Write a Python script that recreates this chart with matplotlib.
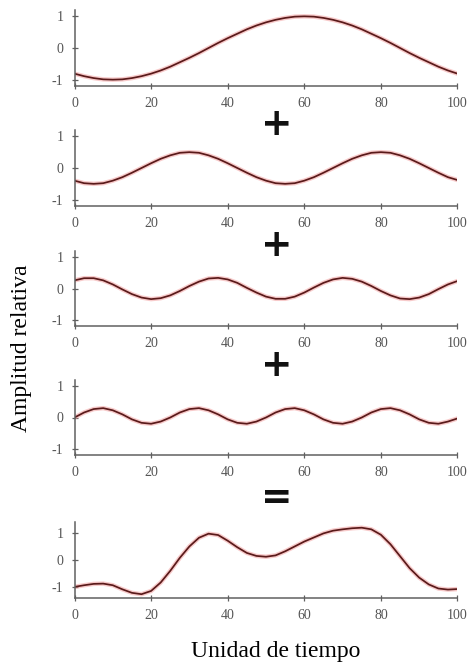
import matplotlib
matplotlib.use("Agg")
import matplotlib.pyplot as plt
import numpy as np

plt.rcParams['font.family'] = ['Liberation Serif', 'DejaVu Serif']
plt.rcParams['axes.unicode_minus'] = False

# time samples (every 2.5 units)
time = np.arange(0, 100.01, 2.5)

wave_1 = [-0.81, -0.89, -0.95, -0.99, -1.00, -0.99, -0.95, -0.89, -0.81, -0.71,
          -0.59, -0.45, -0.31, -0.16, 0.00, 0.16, 0.31, 0.45, 0.59, 0.71,
          0.81, 0.89, 0.95, 0.99, 1.00, 0.99, 0.95, 0.89, 0.81, 0.71,
          0.59, 0.45, 0.31, 0.16, 0.00, -0.16, -0.31, -0.45, -0.59, -0.71, -0.81]

wave_2 = [-0.40, -0.48, -0.50, -0.48, -0.40, -0.29, -0.15, 0.00, 0.15, 0.29,
          0.40, 0.48, 0.50, 0.48, 0.40, 0.29, 0.15, 0.00, -0.15, -0.29,
          -0.40, -0.48, -0.50, -0.48, -0.40, -0.29, -0.15, 0.00, 0.15, 0.29,
          0.40, 0.48, 0.50, 0.48, 0.40, 0.29, 0.15, 0.00, -0.15, -0.29, -0.38]

wave_3 = [0.26, 0.33, 0.33, 0.26, 0.13, -0.03, -0.18, -0.29, -0.34, -0.31,
          -0.22, -0.08, 0.08, 0.22, 0.32, 0.34, 0.29, 0.18, 0.02, -0.13,
          -0.26, -0.33, -0.33, -0.26, -0.13, 0.03, 0.18, 0.29, 0.34, 0.31,
          0.22, 0.08, -0.08, -0.22, -0.32, -0.34, -0.29, -0.18, -0.02, 0.13, 0.24]

wave_4 = [0.00, 0.16, 0.27, 0.30, 0.23, 0.10, -0.06, -0.17, -0.20, -0.13,
          0.00, 0.16, 0.27, 0.30, 0.23, 0.10, -0.06, -0.17, -0.20, -0.13,
          0.00, 0.16, 0.27, 0.30, 0.23, 0.10, -0.06, -0.17, -0.20, -0.13,
          0.00, 0.16, 0.27, 0.30, 0.23, 0.10, -0.06, -0.17, -0.20, -0.13, -0.03]

wave_sum = [-0.99, -0.93, -0.88, -0.87, -0.93, -1.08, -1.21, -1.26, -1.14, -0.83,
            -0.40, 0.08, 0.50, 0.82, 0.97, 0.92, 0.71, 0.47, 0.26, 0.15,
            0.12, 0.17, 0.32, 0.50, 0.68, 0.83, 0.98, 1.08, 1.13, 1.17,
            1.19, 1.13, 0.93, 0.58, 0.14, -0.30, -0.65, -0.90, -1.05, -1.09, -1.07]

series = [wave_1, wave_2, wave_3, wave_4, wave_sum]
x_ticks = [0, 20, 40, 60, 80, 100]
y_ticks = [-1, 0, 1]
operators = ['+', '+', '+', '=']

W, H = 472, 666
fig = plt.figure(figsize=(W / 100, H / 100), dpi=100)

# panel pixel boxes (top, bottom)
boxes = [(10, 86), (130, 206), (251, 326), (380, 455), (522, 598)]
ylims = [(-1.2, 1.2)] * 4 + [(-1.4, 1.4)]
left_px, right_px = 74.5, 457.5

axes = []
for (top, bot), data, yl in zip(boxes, series, ylims):
    ax = fig.add_axes([left_px / W, 1 - bot / H, (right_px - left_px) / W, (bot - top) / H])
    ax.plot(time, data, color='#f2a0a0', lw=3.2, alpha=0.55, solid_capstyle='round')
    ax.plot(time, data, color='#5a1a1a', lw=1.25, solid_capstyle='round')
    ax.set_xlim(0, 100)
    ax.set_ylim(*yl)
    ax.set_xticks(x_ticks)
    ax.set_yticks(y_ticks)
    for s in ['top', 'right']:
        ax.spines[s].set_visible(False)
    for s in ['left', 'bottom']:
        ax.spines[s].set_color('#606060')
        ax.spines[s].set_linewidth(1.1)
    ax.tick_params(axis='both', direction='inout', length=4, width=0.9, color='#606060',
                   labelsize=10, labelcolor='#555555')
    ax.tick_params(axis='x', pad=6)
    ax.tick_params(axis='y', pad=6)
    ax.patch.set_alpha(0)
    axes.append(ax)

# operators between panels
op_y = [125, 246, 366, 498]
for sym, yy in zip(operators, op_y):
    fig.text(277 / W, 1 - yy / H, sym, ha='center', va='center',
             fontsize=27, fontweight='bold', family='DejaVu Sans', color='#111111')

fig.text(22 / W, 1 - 348 / H, 'Amplitud relativa', rotation=90, ha='center', va='center',
         fontsize=17, color='black')
fig.text(276 / W, 1 - 652 / H, 'Unidad de tiempo', ha='center', va='center',
         fontsize=17, color='black')

fig.savefig('out.png', dpi=100, facecolor='white')
